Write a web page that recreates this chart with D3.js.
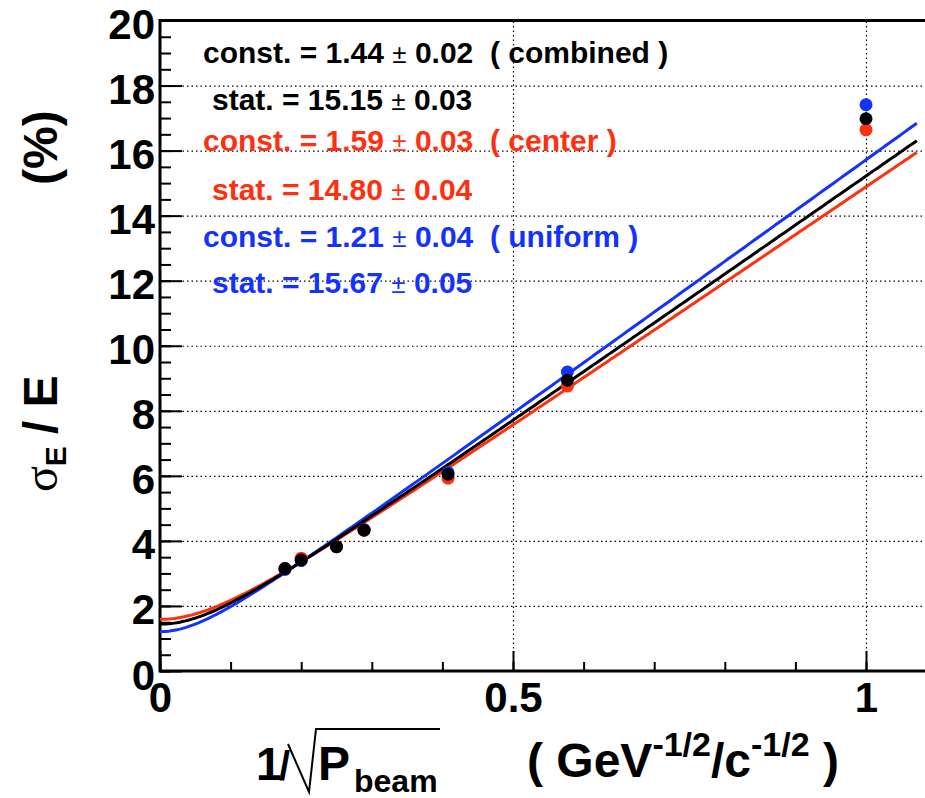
<!DOCTYPE html>
<html>
<head>
<meta charset="utf-8">
<script src="https://cdn.jsdelivr.net/npm/d3@7"></script>
<style>
  body { margin: 0; background: #fff; }
  text { font-family: "Liberation Sans", Helvetica, Arial, sans-serif; font-weight: bold; }
</style>
</head>
<body>
<div id="chart"></div>
<script>
// data
var pointX = [0.177, 0.200, 0.250, 0.289, 0.408, 0.577, 1.0];
var combinedY = [3.15, 3.41, 3.82, 4.33, 6.05, 8.94, 16.98];
var centerY = [3.15, 3.47, 3.82, 4.33, 5.93, 8.76, 16.64];
var uniformY = [3.12, 3.40, 3.82, 4.35, 6.10, 9.19, 17.41];

// fit parameters (from the legend)
var fitConst = [1.44, 1.59, 1.21];
var fitConstErr = [0.02, 0.03, 0.04];
var fitStat = [15.15, 14.80, 15.67];
var fitStatErr = [0.03, 0.04, 0.05];
var fitLabels = ["combined", "center", "uniform"];
var fitColors = ["#000000", "#ff3010", "#1432ff"];
var fitXMax = 1.072;

var yTicks = d3.range(0, 21, 2);
var yMinor = d3.range(0, 20.01, 0.5);
var xTicks = [0, 0.5, 1];
var xMinor = d3.range(0, 1.09, 0.1);

var svgWidth = 925;
var svgHeight = 798;

var svg = d3.select("#chart")
  .append("svg")
  .attr("width", svgWidth)
  .attr("height", svgHeight);

var plotLeft = 160, plotTop = 20.5, plotBottom = 671, plotRight = 925;

var x = d3.scaleLinear().domain([0, 1]).range([plotLeft, 866]);
var y = d3.scaleLinear().domain([0, 20]).range([plotBottom, plotTop]);

// dotted grid
svg.append("g")
  .attr("transform", `translate(${plotLeft},0)`)
  .call(d3.axisLeft(y).tickValues(d3.range(2, 19, 2)).tickSize(-(plotRight - plotLeft)).tickFormat(""))
  .call(g => g.select(".domain").remove())
  .selectAll("line")
  .attr("stroke", "#000").attr("stroke-width", 1.2).attr("stroke-dasharray", "1.5,3");

svg.append("g")
  .attr("transform", `translate(0,${plotBottom})`)
  .call(d3.axisBottom(x).tickValues([0.5, 1]).tickSize(-(plotBottom - plotTop)).tickFormat(""))
  .call(g => g.select(".domain").remove())
  .selectAll("line")
  .attr("stroke", "#000").attr("stroke-width", 1.2).attr("stroke-dasharray", "1.5,3");

// minor ticks
svg.append("g")
  .attr("transform", `translate(${plotLeft},0)`)
  .call(d3.axisLeft(y).tickValues(yMinor).tickSizeInner(-11).tickSizeOuter(0).tickFormat(""))
  .call(g => g.select(".domain").remove())
  .selectAll("line").attr("stroke-width", 2);

svg.append("g")
  .attr("transform", `translate(0,${plotBottom})`)
  .call(d3.axisBottom(x).tickValues(xMinor).tickSizeInner(-9).tickSizeOuter(0).tickFormat(""))
  .call(g => g.select(".domain").remove())
  .selectAll("line").attr("stroke-width", 2);

// major ticks + labels
var yAxis = svg.append("g")
  .attr("transform", `translate(${plotLeft},0)`)
  .call(d3.axisLeft(y).tickValues(yTicks).tickSizeInner(-22).tickSizeOuter(0).tickPadding(5).tickFormat(d3.format("d")));
yAxis.select(".domain").remove();
yAxis.selectAll("line").attr("stroke-width", 2);
yAxis.selectAll("text")
  .attr("font-size", 42).attr("font-family", "Liberation Sans").attr("font-weight", "bold")
  .attr("dy", 18);

var xAxis = svg.append("g")
  .attr("transform", `translate(0,${plotBottom})`)
  .call(d3.axisBottom(x).tickValues(xTicks).tickSizeInner(-20).tickSizeOuter(0).tickPadding(11)
    .tickFormat(d => d === 0.5 ? "0.5" : d3.format("d")(d)));
xAxis.select(".domain").remove();
xAxis.selectAll("line").attr("stroke-width", 2);
xAxis.selectAll("text")
  .attr("font-size", 42).attr("font-family", "Liberation Sans").attr("font-weight", "bold")
  .attr("dy", 30);

// frame
svg.append("path")
  .attr("d", `M${plotRight},${plotTop}H${plotLeft}V${plotBottom}H${plotRight}`)
  .attr("fill", "none").attr("stroke", "#000").attr("stroke-width", 3);

// fit curves
var curveX = d3.range(0, fitXMax + 0.0001, 0.004);
var line = d3.line().x(d => x(d[0])).y(d => y(d[1]));
[1, 2, 0].forEach(function(i) {
  var pts = curveX.map(v => [v, Math.sqrt(fitConst[i] * fitConst[i] + fitStat[i] * fitStat[i] * v * v)]);
  svg.append("path")
    .attr("d", line(pts))
    .attr("fill", "none")
    .attr("stroke", fitColors[i])
    .attr("stroke-width", 3);
});

// markers
var markerSets = [[uniformY, fitColors[2]], [centerY, fitColors[1]], [combinedY, fitColors[0]]];
markerSets.forEach(function(s) {
  svg.append("g").selectAll("circle")
    .data(pointX)
    .join("circle")
    .attr("cx", d => x(d))
    .attr("cy", (d, i) => y(s[0][i]))
    .attr("r", 6.5)
    .attr("fill", s[1]);
});

// fit results
var legendX = [203, 212];
var legendY = [63, 110, 151, 200, 247, 293];
var legend = svg.append("g").attr("font-size", 30);
[0, 1, 2].forEach(function(i) {
  var rows = [
    ["const. = " + fitConst[i].toFixed(2), fitConstErr[i].toFixed(2), "  ( " + fitLabels[i] + " )"],
    ["stat. = " + fitStat[i].toFixed(2), fitStatErr[i].toFixed(2), ""]
  ];
  rows.forEach(function(r, k) {
    var t = legend.append("text")
      .attr("x", legendX[k])
      .attr("y", legendY[i * 2 + k])
      .attr("fill", fitColors[i])
      .attr("xml:space", "preserve")
      .style("white-space", "pre");
    t.append("tspan").text(r[0] + " ");
    t.append("tspan").attr("font-weight", "normal").attr("font-size", 26).text("±");
    t.append("tspan").text(" " + r[1] + r[2]);
  });
});

// y title
var yt = svg.append("text")
  .attr("transform", "translate(57,492) rotate(-90)")
  .attr("font-size", 48);
yt.append("tspan").attr("font-weight", "normal").attr("font-family", "Liberation Serif").text("σ");
yt.append("tspan").attr("font-size", 30).attr("dy", 9).text("E");
yt.append("tspan").attr("dy", -9).attr("dx", 12).text("/ E");
yt.append("tspan").attr("x", 307).text("(%)");

// x title
svg.append("text").attr("x", 256).attr("y", 780).attr("font-size", 46).text("1");
svg.append("text").attr("x", 279).attr("y", 780).attr("font-size", 40).text("/");
svg.append("path")
  .attr("d", "M288,744 L309,792 L316,729 L440,729")
  .attr("fill", "none").attr("stroke", "#000").attr("stroke-width", 2);
svg.append("text").attr("x", 318).attr("y", 780).attr("font-size", 48).text("P");
svg.append("text").attr("x", 354).attr("y", 792).attr("font-size", 32).text("beam");

var xt = svg.append("text").attr("x", 527).attr("y", 777).attr("font-size", 48)
  .attr("xml:space", "preserve").style("white-space", "pre");
xt.append("tspan").text("( GeV");
xt.append("tspan").attr("font-size", 34).attr("dy", -21).text("-1/2");
xt.append("tspan").attr("dy", 21).text("/c");
xt.append("tspan").attr("font-size", 34).attr("dy", -21).text("-1/2");
xt.append("tspan").attr("dy", 21).text(" )");
</script>
</body>
</html>
